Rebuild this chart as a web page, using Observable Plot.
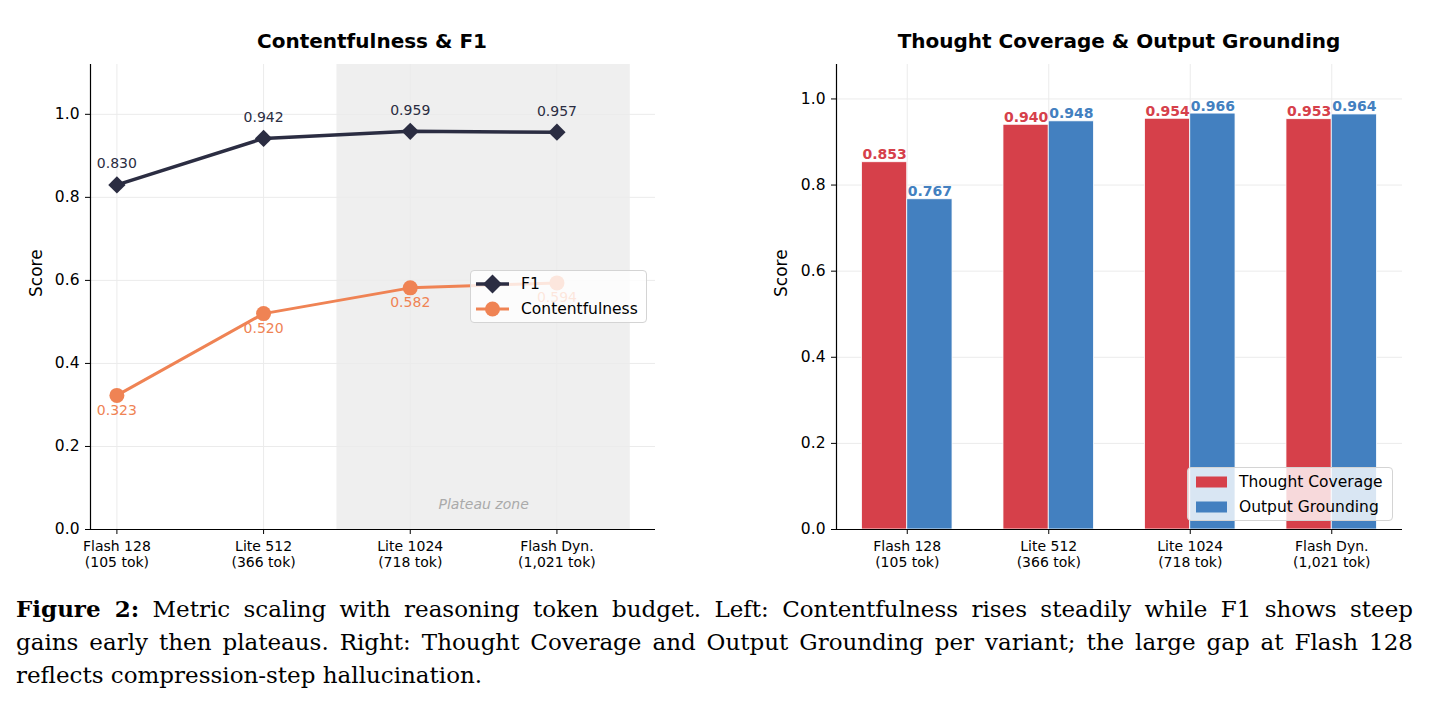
<!DOCTYPE html>
<html><head><meta charset="utf-8">
<script src="https://cdn.jsdelivr.net/npm/d3@7"></script>
<script src="https://cdn.jsdelivr.net/npm/@observablehq/plot@0.6"></script>
<style>
body{margin:0;background:#fff;}
#wrap{position:relative;width:1429px;height:704px;overflow:hidden;font-family:"DejaVu Sans",sans-serif;color:#000;}
.chart{position:absolute;top:0;}
.title{position:absolute;top:29px;line-height:24px;font-size:20px;font-weight:bold;white-space:nowrap;transform:translateX(-50%);}
.legend{position:absolute;box-sizing:border-box;background:rgba(255,255,255,0.8);border:1px solid #d4d4d4;border-radius:4px;font-size:15.5px;}
.legend .row{position:absolute;left:0;height:20px;line-height:20px;white-space:nowrap;}
.legend .row svg{position:absolute;top:0;}
.legend .row span{position:absolute;top:0;}
#caption{position:absolute;left:16px;top:592px;width:1397px;font-family:"DejaVu Serif",serif;font-size:23px;line-height:33px;color:#000;}
#caption .j{text-align:justify;text-align-last:justify;white-space:nowrap;}
</style></head>
<body>
<div id="wrap">
  <div id="left" class="chart" style="left:0px"></div>
  <div id="right" class="chart" style="left:715px"></div>
  <div class="title" style="left:372px">Contentfulness &amp; F1</div>
  <div class="title" style="left:1119px">Thought Coverage &amp; Output Grounding</div>
  <div class="legend" style="left:470px;top:270px;width:177px;height:53px">
    <div class="row" style="top:3px;width:177px">
      <svg width="50" height="20" style="left:0"><line x1="5" x2="38" y1="10" y2="10" stroke="#2b2d42" stroke-width="3.5"/><path d="M21.5,0.5 L31,10 L21.5,19.5 L12,10Z" fill="#2b2d42"/></svg>
      <span style="left:50px">F1</span>
    </div>
    <div class="row" style="top:28px;width:177px">
      <svg width="50" height="20" style="left:0"><line x1="5" x2="38" y1="10" y2="10" stroke="#ef8354" stroke-width="3"/><circle cx="21.5" cy="10" r="7.5" fill="#ef8354"/></svg>
      <span style="left:50px">Contentfulness</span>
    </div>
  </div>
  <div class="legend" style="left:1187px;top:467px;width:206px;height:54px">
    <div class="row" style="top:4px;width:206px">
      <svg width="40" height="20" style="left:0"><rect x="8" y="4.5" width="31" height="11" fill="#d6404a"/></svg>
      <span style="left:51px">Thought Coverage</span>
    </div>
    <div class="row" style="top:29px;width:206px">
      <svg width="40" height="20" style="left:0"><rect x="8" y="4.5" width="31" height="11" fill="#4380c0"/></svg>
      <span style="left:51px">Output Grounding</span>
    </div>
  </div>
  <div id="caption">
    <div class="j"><b>Figure 2:</b> Metric scaling with reasoning token budget. Left: Contentfulness rises steadily while F1 shows steep</div>
    <div class="j">gains early then plateaus. Right: Thought Coverage and Output Grounding per variant; the large gap at Flash 128</div>
    <div>reflects compression-step hallucination.</div>
  </div>
</div>
<script>
// ---- data ----
const variants = ["Flash 128", "Lite 512", "Lite 1024", "Flash Dyn."];
const tokens = ["105 tok", "366 tok", "718 tok", "1,021 tok"];
const f1 = [0.830, 0.942, 0.959, 0.957];
const contentfulness = [0.323, 0.520, 0.582, 0.594];
const thoughtCoverage = [0.853, 0.940, 0.954, 0.953];
const outputGrounding = [0.767, 0.948, 0.966, 0.964];
const yTicks = [0, 0.2, 0.4, 0.6, 0.8, 1.0];
const plateau = [{start: 1.5, end: 3.5, label: "Plateau zone", labelY: 0.06}];

// ---- styles ----
const NAVY = "#2b2d42", ORANGE = "#ef8354", RED = "#d6404a", BLUE = "#4380c0";
const GRID = "#ebebeb";
const idx = variants.map((_, i) => i);
const tickLabel = i => `${variants[i]}\n(${tokens[i]})`;

const f1Data = idx.map(i => ({i, v: f1[i]}));
const cData = idx.map(i => ({i, v: contentfulness[i]}));

const leftX = [-0.18, 3.672];
const left = Plot.plot({
  width: 715, height: 580,
  marginLeft: 90, marginRight: 60, marginTop: 64, marginBottom: 51,
  style: {fontFamily: "DejaVu Sans, sans-serif", background: "transparent", overflow: "visible", color: "#000"},
  x: {type: "linear", domain: leftX},
  y: {domain: [0, 1.12]},
  marks: [
    Plot.rect(plateau, {x1: "start", x2: "end", fill: "#efefef"}),
    Plot.gridY(yTicks, {stroke: GRID, strokeOpacity: 1, strokeWidth: 1}),
    Plot.gridX(idx, {stroke: GRID, strokeOpacity: 1, strokeWidth: 1}),
    Plot.text(plateau, {x: d => (d.start + d.end) / 2, y: "labelY", text: "label", fill: "#aaaaaa", fontStyle: "italic", fontSize: 14}),
    Plot.line(cData, {x: "i", y: "v", stroke: ORANGE, strokeWidth: 3}),
    Plot.dot(cData, {x: "i", y: "v", r: 7.5, fill: ORANGE, stroke: null}),
    Plot.line(f1Data, {x: "i", y: "v", stroke: NAVY, strokeWidth: 3.5}),
    Plot.dot(f1Data, {x: "i", y: "v", r: 7.8, symbol: "diamond2", fill: NAVY, stroke: null}),
    Plot.text(f1Data, {x: "i", y: "v", text: d => d.v.toFixed(3), dy: -21, fill: NAVY, fontSize: 14}),
    Plot.text(cData, {x: "i", y: "v", text: d => d.v.toFixed(3), dy: 15, fill: ORANGE, fontSize: 14}),
    Plot.ruleY([0], {stroke: "#000", strokeWidth: 1.2}),
    Plot.ruleX([leftX[0]], {stroke: "#000", strokeWidth: 1.2}),
    Plot.axisX(idx, {tickFormat: tickLabel, tickSize: 5, tickPadding: 6, fontSize: 14, lineHeight: 1.1, label: null, stroke: "#000"}),
    Plot.axisY(yTicks, {tickFormat: d3.format(".1f"), tickSize: 5, tickPadding: 6, fontSize: 15.5, label: null, stroke: "#000"}),
    Plot.text(["Score"], {frameAnchor: "left", rotate: -90, dx: -54, fontSize: 17, fill: "#000"})
  ]
});
document.getElementById("left").appendChild(left);

// right chart
const BW = 0.32;
const bars = idx.flatMap(i => [
  {i, series: "Thought Coverage", v: thoughtCoverage[i], off: -1},
  {i, series: "Output Grounding", v: outputGrounding[i], off: 0}
]);
const colorOf = d => d.series === "Thought Coverage" ? RED : BLUE;
const rightX = [-0.5, 3.5];
const right = Plot.plot({
  width: 714, height: 580,
  marginLeft: 121, marginRight: 27, marginTop: 64, marginBottom: 51,
  style: {fontFamily: "DejaVu Sans, sans-serif", background: "transparent", overflow: "visible", color: "#000"},
  x: {type: "linear", domain: rightX},
  y: {domain: [0, 1.08]},
  marks: [
    Plot.gridY(yTicks, {stroke: GRID, strokeOpacity: 1, strokeWidth: 1}),
    Plot.gridX(idx, {stroke: GRID, strokeOpacity: 1, strokeWidth: 1}),
    Plot.rectY(bars, {x1: d => d.i + d.off * BW, x2: d => d.i + (d.off + 1) * BW, y: "v", fill: colorOf, stroke: "#fff", strokeWidth: 0.8}),
    Plot.text(bars, {x: d => d.i + (d.off + 0.5) * BW, y: "v", text: d => d.v.toFixed(3), fill: colorOf, fontWeight: "bold", fontSize: 14, lineAnchor: "bottom", dy: -3}),
    Plot.ruleY([0], {stroke: "#000", strokeWidth: 1.2}),
    Plot.ruleX([rightX[0]], {stroke: "#000", strokeWidth: 1.2}),
    Plot.axisX(idx, {tickFormat: tickLabel, tickSize: 5, tickPadding: 6, fontSize: 14, lineHeight: 1.1, label: null, stroke: "#000"}),
    Plot.axisY(yTicks, {tickFormat: d3.format(".1f"), tickSize: 5, tickPadding: 6, fontSize: 15.5, label: null, stroke: "#000"}),
    Plot.text(["Score"], {frameAnchor: "left", rotate: -90, dx: -55, fontSize: 17, fill: "#000"})
  ]
});
document.getElementById("right").appendChild(right);
</script>
</body></html>
